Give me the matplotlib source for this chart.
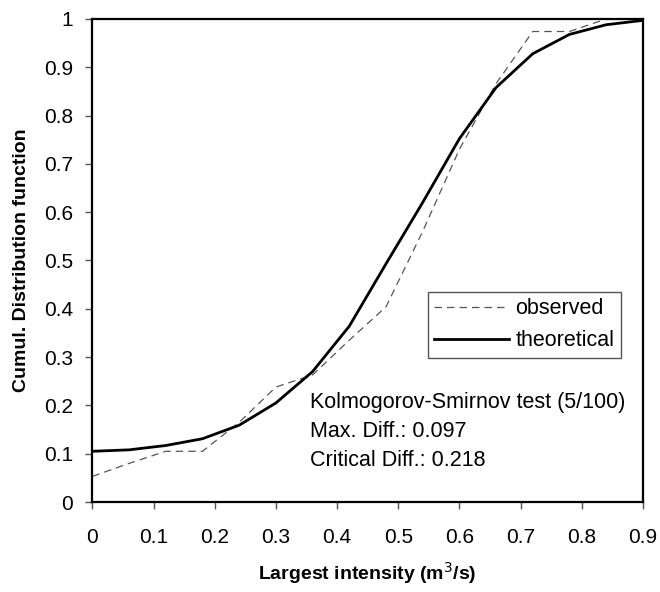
import matplotlib
matplotlib.use("Agg")
import matplotlib.pyplot as plt

plt.rcParams["font.family"] = ["Liberation Sans", "DejaVu Sans"]

# class upper bounds (m3/s)
x_vals = [0.0, 0.06, 0.12, 0.18, 0.24, 0.30, 0.36, 0.42, 0.48,
          0.54, 0.60, 0.66, 0.72, 0.78, 0.84, 0.90]
observed = [0.053, 0.08, 0.105, 0.105, 0.165, 0.238, 0.263, 0.335, 0.404,
            0.56, 0.73, 0.866, 0.974, 0.974, 1.0, 1.0]
theoretical = [0.105, 0.108, 0.117, 0.131, 0.159, 0.205, 0.27, 0.364, 0.493,
               0.62, 0.752, 0.858, 0.928, 0.968, 0.988, 0.997]

x_ticks = [0, 0.1, 0.2, 0.3, 0.4, 0.5, 0.6, 0.7, 0.8, 0.9]
x_ticklabels = ["0", "0.1", "0.2", "0.3", "0.4", "0.5", "0.6", "0.7", "0.8", "0.9"]
y_ticks = [0, 0.1, 0.2, 0.3, 0.4, 0.5, 0.6, 0.7, 0.8, 0.9, 1.0]
y_ticklabels = ["0", "0.1", "0.2", "0.3", "0.4", "0.5", "0.6", "0.7", "0.8", "0.9", "1"]

ks_lines = ["Kolmogorov-Smirnov test (5/100)", "Max. Diff.: 0.097", "Critical Diff.: 0.218"]

fig = plt.figure(figsize=(6.6, 5.92), dpi=100)
ax = fig.add_axes([0.140, 0.152, 0.834, 0.816])

ax.plot(x_vals, observed, color="#555555", lw=0.9, ls=(0, (6, 4)), label="observed")
ax.plot(x_vals, theoretical, color="black", lw=2.0, label="theoretical")

ax.set_xlim(0, 0.9)
ax.set_ylim(0, 1)
ax.set_xticks(x_ticks)
ax.set_xticklabels(x_ticklabels)
ax.set_yticks(y_ticks)
ax.set_yticklabels(y_ticklabels)
ax.tick_params(direction="out", length=5, width=1, color="#555555", labelsize=15)
ax.tick_params(axis="x", pad=14)
ax.tick_params(axis="y", pad=9)

for s in ax.spines.values():
    s.set_linewidth(1.6)
    s.set_color("black")

ax.set_xlabel("Largest intensity (m$^3$/s)", fontsize=14, fontweight="bold", labelpad=9)
ax.set_ylabel("Cumul. Distribution function", fontsize=14, fontweight="bold", labelpad=10)

leg = ax.legend(loc="upper left", bbox_to_anchor=(0.609, 0.435), fontsize=15.5,
                fancybox=False, framealpha=1, edgecolor="#555555",
                handlelength=3.5, handletextpad=0.28, borderpad=0.3,
                labelspacing=0.5, borderaxespad=0)
leg.get_frame().set_linewidth(1.0)

for i, line in enumerate(ks_lines):
    ax.text(0.395, 0.205 - i * 0.06, line, fontsize=15.5,
            transform=ax.transAxes, ha="left", va="center")

fig.savefig("out.png", dpi=100)
plt.close(fig)
